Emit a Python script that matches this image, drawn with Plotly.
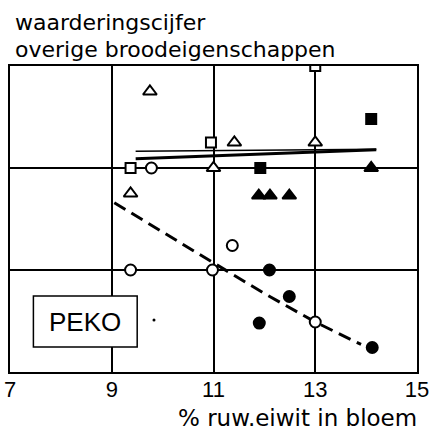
import plotly.graph_objects as go

# x: % ruw eiwit in bloem, y: waarderingscijfer (arbitrary scale, gridlines at 6 and 7)
open_tri_x = [9.75, 11.0, 9.37, 11.41, 13.0]
open_tri_y = [7.75, 7.0, 6.75, 7.25, 7.25]
open_sq_x = [10.95, 9.37, 13.0]
open_sq_y = [7.25, 7.0, 8.0]
open_circ_x = [9.78, 9.37, 10.98, 11.37, 13.0]
open_circ_y = [7.0, 6.0, 6.0, 6.24, 5.49]
fill_sq_x = [14.1, 11.92]
fill_sq_y = [7.48, 7.0]
fill_tri_x = [14.1, 11.89, 12.11, 12.49]
fill_tri_y = [7.0, 6.73, 6.73, 6.73]
fill_circ_x = [12.1, 12.49, 11.9, 14.12]
fill_circ_y = [6.0, 5.74, 5.48, 5.24]
dot_x = [9.83]
dot_y = [5.51]

dash_x = [9.05, 10.0, 11.0, 12.0, 13.0, 13.9]
dash_y = [6.66, 6.37, 6.07, 5.77, 5.49, 5.27]
solidA_x = [9.47, 14.2]
solidA_y = [7.09, 7.18]
solidB_x = [9.47, 14.2]
solidB_y = [7.165, 7.185]

x_ticks = [7, 9, 11, 13, 15]
y_grid = [6, 7]

W, H = 429, 430
ML, MR, MT, MB = 10, 12, 66, 58

fig = go.Figure()
fig.add_trace(go.Scatter(x=dash_x, y=dash_y, mode="lines",
                         line=dict(color="black", width=3, dash="13px,7px")))
fig.add_trace(go.Scatter(x=solidA_x, y=solidA_y, mode="lines",
                         line=dict(color="black", width=3)))
fig.add_trace(go.Scatter(x=solidB_x, y=solidB_y, mode="lines",
                         line=dict(color="black", width=1.5)))

def add_markers(xs, ys, symbol, size, fill):
    fig.add_trace(go.Scatter(x=xs, y=ys, mode="markers",
                             marker=dict(symbol=symbol, size=size, color=fill,
                                         line=dict(color="black", width=2))))

add_markers(open_tri_x, open_tri_y, "triangle-up", 12, "white")
add_markers(open_sq_x, open_sq_y, "square", 10, "white")
add_markers(open_circ_x, open_circ_y, "circle", 11, "white")
add_markers(fill_sq_x, fill_sq_y, "square", 10, "black")
add_markers(fill_tri_x, fill_tri_y, "triangle-up", 12, "black")
add_markers(fill_circ_x, fill_circ_y, "circle", 11, "black")
fig.add_trace(go.Scatter(x=dot_x, y=dot_y, mode="markers",
                         marker=dict(symbol="circle", size=3, color="black")))

tick_font = "Liberation Sans"
text_font = "DejaVu Sans"
fig.update_layout(
    width=W, height=H,
    margin=dict(l=ML, r=MR, t=MT, b=MB, autoexpand=False),
    paper_bgcolor="white", plot_bgcolor="white",
    showlegend=False,
    font=dict(family=tick_font, color="black"),
)
fig.update_xaxes(range=[7, 15], tickvals=x_ticks, ticktext=[str(v) for v in x_ticks],
                 showgrid=True, gridcolor="black", gridwidth=1.5,
                 showline=True, linecolor="black", linewidth=2, mirror=True,
                 ticks="", zeroline=False, automargin=False,
                 ticklabeloverflow="allow", ticklabelstandoff=-3,
                 tickfont=dict(size=22, family=tick_font))
fig.update_yaxes(range=[5, 8], tickvals=y_grid, showticklabels=False,
                 showgrid=True, gridcolor="black", gridwidth=1.5,
                 showline=True, linecolor="black", linewidth=2, mirror=True,
                 ticks="", zeroline=False, automargin=False)

# PEKO box
fig.add_shape(type="rect", xref="x", yref="y", x0=7.46, x1=9.5, y0=5.245, y1=5.745,
              line=dict(color="black", width=1.5), fillcolor="white", layer="above")
fig.add_annotation(x=8.48, y=5.495, xref="x", yref="y", text="PEKO", showarrow=False,
                   font=dict(size=26, family=tick_font))

def px_to_paper(px, py):
    return (px - ML) / (W - ML - MR), 1 - (py - MT) / (H - MT - MB)

for txt, px, py, anchor, size in [("waarderingscijfer", 13, 22, "left", 22),
                                  ("overige broodeigenschappen", 13, 50, "left", 22),
                                  ("% ruw.eiwit in bloem", 419, 418, "right", 23)]:
    ax, ay = px_to_paper(px, py)
    fig.add_annotation(x=ax, y=ay, xref="paper", yref="paper", xanchor=anchor,
                       yanchor="middle", text=txt, showarrow=False,
                       font=dict(size=size, family=text_font))

fig.write_html("out.html", config={"displayModeBar": False},
               post_script="document.body.style.margin='0';document.body.style.overflow='hidden';")
